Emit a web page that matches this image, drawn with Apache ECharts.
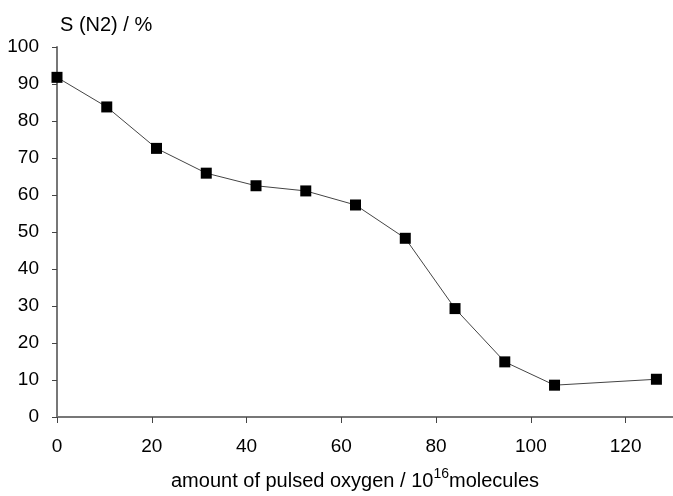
<!DOCTYPE html>
<html><head><meta charset="utf-8">
<script src="https://cdn.jsdelivr.net/npm/echarts@6/dist/echarts.min.js"></script>
<style>html,body{margin:0;padding:0;background:#fff}#c{width:673px;height:496px}</style>
</head><body><div id="c"></div>
<script>
const oxygenAmount = [0, 10.5, 21, 31.5, 42, 52.5, 63, 73.5, 84, 94.5, 105, 126.5];
const selectivityN2 = [91.8, 83.8, 72.6, 65.9, 62.5, 61.1, 57.3, 48.3, 29.3, 14.9, 8.6, 10.2];
const xTicks = [0, 20, 40, 60, 80, 100, 120];
const yTicks = [0, 10, 20, 30, 40, 50, 60, 70, 80, 90, 100];

const font = 'Liberation Sans, Arial, sans-serif';
const axisColor = '#777';
const chart = echarts.init(document.getElementById('c'));
chart.setOption({
  animation: false,
  title: {
    text: 'S (N2) / %', left: 55, top: 10,
    textStyle: {fontFamily: font, fontSize: 20, fontWeight: 'normal', color: '#000'}
  },
  grid: {left: 57, right: 0, top: 47, bottom: 79},
  xAxis: [{
    type: 'value', min: 0, max: 130,
    axisLine: {show: true, onZero: false, lineStyle: {color: axisColor, width: 2}},
    axisTick: {show: true, length: 6, customValues: xTicks, lineStyle: {color: '#444', width: 1}},
    axisLabel: {customValues: xTicks, margin: 20, fontFamily: font, fontSize: 19, color: '#000'},
    splitLine: {show: false},
    name: 'amount of pulsed oxygen / 10{sup|16}molecules',
    nameLocation: 'middle', nameGap: 50,
    nameTextStyle: {
      fontFamily: font, fontSize: 20, color: '#000', padding: [0, 20, 0, 0],
      rich: {sup: {fontFamily: font, fontSize: 14, color: '#000', verticalAlign: 'top', padding: [0, 0, 14, 0]}}
    }
  }, {
    type: 'value', min: 0, max: 130, position: 'top',
    axisLine: {show: true, lineStyle: {color: axisColor, width: 2}},
    axisTick: {show: false}, axisLabel: {show: false}, splitLine: {show: false}
  }],
  yAxis: {
    type: 'value', min: 0, max: 100, interval: 10,
    axisLine: {show: true, lineStyle: {color: axisColor, width: 2}},
    axisTick: {show: true, length: 5, lineStyle: {color: '#444', width: 1}},
    axisLabel: {margin: 18, fontFamily: font, fontSize: 19, color: '#000', padding: [0, 0, 6, 0]},
    splitLine: {show: false}
  },
  series: [{
    type: 'line',
    data: oxygenAmount.map((x, i) => [x, selectivityN2[i]]),
    symbol: 'rect', symbolSize: 11,
    itemStyle: {color: '#000'},
    lineStyle: {color: '#444', width: 1},
    clip: false
  }]
});
</script></body></html>
